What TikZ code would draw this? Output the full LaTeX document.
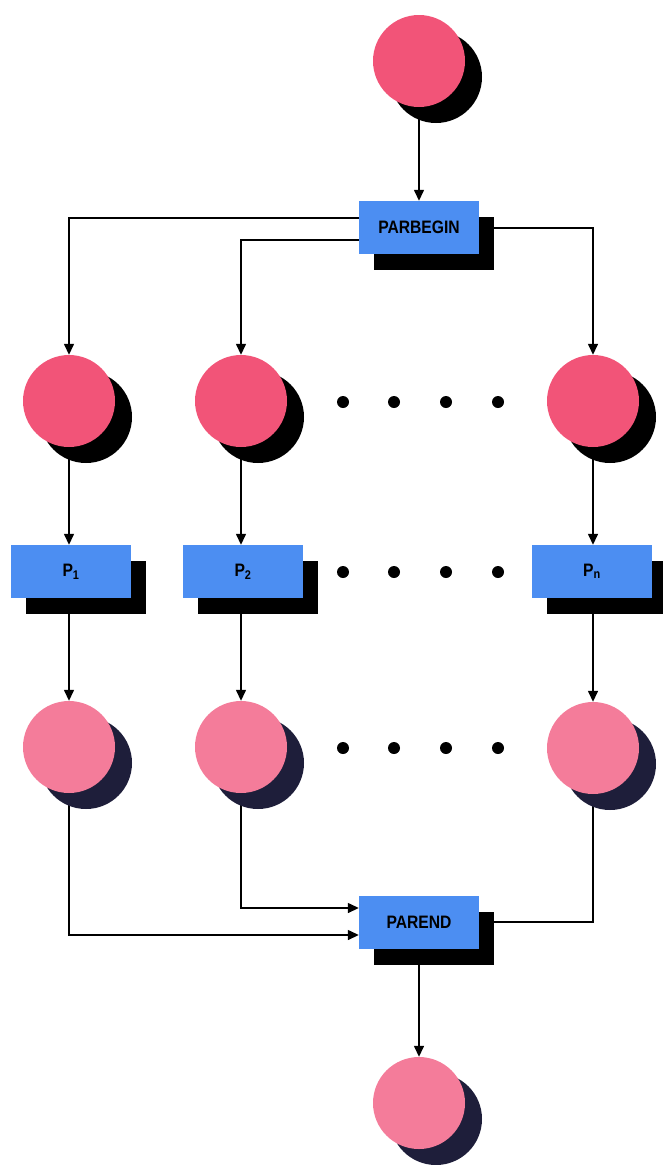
\documentclass[tikz,border=0pt]{standalone}
\usepackage{fontspec}
\usepackage{graphicx}
\setmainfont{Liberation Sans}
\usetikzlibrary{arrows.meta,shadows}
\definecolor{pinkA}{RGB}{242,84,120}
\definecolor{pinkB}{RGB}{244,124,154}
\definecolor{boxblue}{RGB}{76,142,242}
\definecolor{navy}{RGB}{30,30,58}
\pgfdeclarelayer{bg}
\pgfsetlayers{bg,main}
\tikzset{
  ballbase/.style={circle, minimum size=92pt, inner sep=0pt},
  ball/.style={ballbase, fill=pinkA, general shadow={fill=black, shadow xshift=17pt, shadow yshift=-16pt}},
  ballL/.style={ballbase, fill=pinkB, general shadow={fill=navy, shadow xshift=17pt, shadow yshift=-16pt}},
  procbox/.style={rectangle, fill=boxblue, minimum width=120pt, minimum height=53pt, inner sep=0pt,
    font=\fontsize{18}{20}\selectfont\bfseries,
    general shadow={fill=black, shadow xshift=15pt, shadow yshift=-16pt}},
  bigdot/.style={circle, fill=black, minimum size=12pt, inner sep=0pt},
  arr/.style={draw, line width=1.4pt, -{Triangle[width=10pt,length=11pt]}},
  plainline/.style={draw, line width=1.4pt}
}
\begin{document}
\begin{tikzpicture}[x=1pt,y=1pt]
\useasboundingbox (0,0) rectangle (663,-1165);
% nodes
\node[ball] (c0) at (419,-61) {};
\node[procbox] (pb) at (419,-227.5) {\scalebox{0.87}[1]{PARBEGIN}};
\node[ball] (c11) at (69,-401) {};
\node[ball] (c12) at (241,-401) {};
\node[ball] (c13) at (593,-401) {};
\node[procbox] (p1) at (71,-571.5) {\scalebox{0.87}[1]{P\textsubscript{1}}};
\node[procbox] (p2) at (243,-571.5) {\scalebox{0.87}[1]{P\textsubscript{2}}};
\node[procbox] (pn) at (592,-571.5) {\scalebox{0.87}[1]{P\textsubscript{n}}};
\node[ballL] (c31) at (69,-747) {};
\node[ballL] (c32) at (241,-747) {};
\node[ballL] (c33) at (593,-748) {};
\node[procbox] (pe) at (419,-922) {\scalebox{0.87}[1]{PAREND}};
\node[ballL] (c4) at (419,-1103) {};
% dots
\foreach \r/\yy in {a/-402,b/-572,c/-748}{
  \node[bigdot] (d\r1) at (343,\yy) {};
  \node[bigdot] (d\r2) at (394,\yy) {};
  \node[bigdot] (d\r3) at (446,\yy) {};
  \node[bigdot] (d\r4) at (498,\yy) {};
}
% connectors
\begin{pgfonlayer}{bg}
\draw[arr] (c0) -- (c0 |- pb.north);
\draw[arr] ([yshift=9.5pt]pb.west) -| (c11);
\draw[arr] ([yshift=-12.5pt]pb.west) -| (c12);
\draw[arr] ([yshift=-0.5pt]pb.east) -| (c13);
\draw[arr] (c11) -- (c11 |- p1.north);
\draw[arr] (c12) -- (c12 |- p2.north);
\draw[arr] (c13) -- (c13 |- pn.north);
\draw[arr] (c11 |- p1.south) -- (c31);
\draw[arr] (c12 |- p2.south) -- (c32);
\draw[arr] (c13 |- pn.south) -- (c33);
\draw[arr] (c31) |- ([yshift=-13pt]pe.west);
\draw[arr] (c32) |- ([yshift=14pt]pe.west);
\draw[arr] (c33) |- (pe.east);
\draw[arr] (pe) -- (c4);
\end{pgfonlayer}
\end{tikzpicture}
\end{document}
